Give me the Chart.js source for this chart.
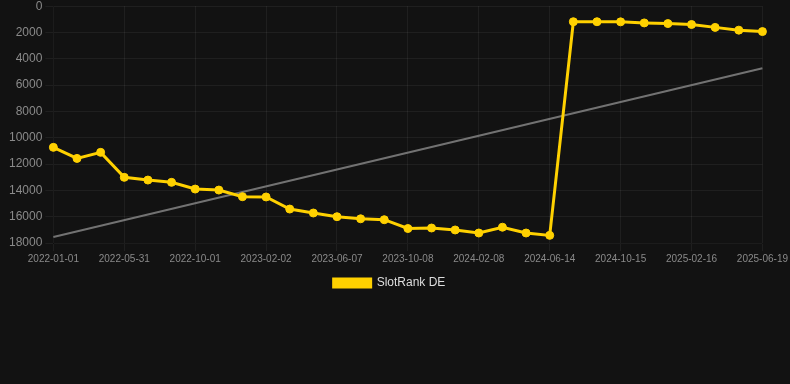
<!DOCTYPE html>
<html>
<head>
<meta charset="utf-8">
<script src="https://cdn.jsdelivr.net/npm/chart.js@4"></script>
<style>
  html, body { margin: 0; padding: 0; background: #121212; overflow: hidden; }
  #wrap { width: 790px; height: 388px; margin-top: -4px; }
</style>
</head>
<body>
<div id="wrap"><canvas id="myChart"></canvas></div>
<script>
const dates = [
  "2022-01-01", "2022-02-20", "2022-04-11", "2022-05-31", "2022-07-11", "2022-08-21",
  "2022-10-01", "2022-11-11", "2022-12-22", "2023-02-02", "2023-03-14", "2023-04-25",
  "2023-06-07", "2023-07-18", "2023-08-28", "2023-10-08", "2023-11-18", "2023-12-29",
  "2024-02-08", "2024-03-20", "2024-05-03", "2024-06-14", "2024-07-25", "2024-09-04",
  "2024-10-15", "2024-11-25", "2025-01-05", "2025-02-16", "2025-03-29", "2025-05-09",
  "2025-06-19"
];
const slotRank = [
  10730, 11570, 11110, 13010, 13215, 13390, 13900, 13975, 14480, 14500, 15420, 15720,
  16000, 16160, 16230, 16900, 16860, 17010, 17240, 16800, 17240, 17420, 1180, 1180,
  1190, 1270, 1320, 1390, 1610, 1820, 1930
];
// trend line: only the two ends are known, the library joins them
const trend = [17545].concat(new Array(dates.length - 2).fill(null), [4710]);

const yellow = "#FFD100";

Chart.defaults.font.family = "'Liberation Sans', Arial, Helvetica, sans-serif";

const ctx = document.getElementById("myChart").getContext("2d");
const myChart = new Chart(ctx, {
  type: "line",
  data: {
    labels: dates,
    datasets: [
      {
        label: "SlotRank DE",
        data: slotRank,
        borderColor: yellow,
        backgroundColor: yellow,
        borderWidth: 3,
        pointRadius: 4,
        pointBorderWidth: 1,
        pointBackgroundColor: yellow,
        pointBorderColor: yellow,
        tension: 0,
      },
      {
        label: "trend",
        data: trend,
        borderColor: "rgba(125, 125, 125, 0.9)",
        borderWidth: 2,
        pointRadius: 0,
        spanGaps: true,
      },
    ],
  },
  options: {
    responsive: true,
    maintainAspectRatio: false,
    animation: false,
    layout: { padding: { top: 0, left: 6, right: 17, bottom: 85 } },
    plugins: {
      legend: {
        position: "bottom",
        labels: {
          color: "#dddddd",
          font: { size: 12 },
          boxWidth: 37,
          boxHeight: 8,
          filter: (item) => item.text !== "trend",
        },
      },
      tooltip: { enabled: false },
    },
    scales: {
      x: {
        ticks: {
          color: "#8a8a8a",
          font: { size: 10 },
          maxRotation: 0,
          autoSkip: true,
          padding: 2,
          callback: function (val, i) { return i % 3 === 0 ? this.getLabelForValue(val) : null; },
        },
        grid: { color: "rgba(255, 255, 255, 0.06)" },
      },
      y: {
        reverse: true,
        min: 0,
        max: 18000,
        ticks: {
          stepSize: 2000,
          color: "#8a8a8a",
          font: { size: 12 },
          callback: (v) => String(v),
        },
        grid: { color: "rgba(255, 255, 255, 0.06)" },
      },
    },
  },
});
</script>
</body>
</html>
